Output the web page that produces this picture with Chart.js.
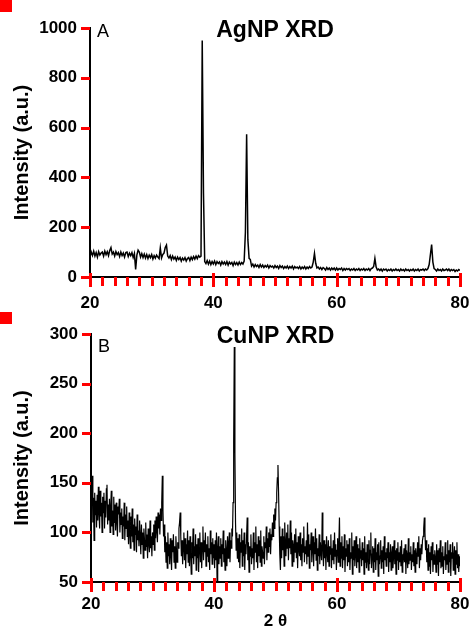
<!DOCTYPE html>
<html><head><meta charset="utf-8">
<script src="https://cdn.jsdelivr.net/npm/chart.js@4.4.1/dist/chart.umd.min.js"></script>
<style>
html,body{margin:0;padding:0;background:#fff;overflow:hidden;width:472px;height:629px;position:relative}
#c1{position:absolute;left:0;top:0}
#c2{position:absolute;left:0;top:312px}
</style></head><body>
<canvas id="c1" width="472" height="312"></canvas>
<canvas id="c2" width="472" height="320"></canvas>
<script>
const agStart = 20, agStep = 0.2;
const cuStart = 20, cuStep = 0.1;
const xTicksMajor = [20, 40, 60, 80];
const xTicksAll = [20,22,24,26,28,30,32,34,36,38,40,42,44,46,48,50,52,54,56,58,60,62,64,66,68,70,72,74,76,78,80];
const agYTicks = [0, 200, 400, 600, 800, 1000];
const cuYTicks = [50, 100, 150, 200, 250, 300];
const panelTitles = ['AgNP XRD', 'CuNP XRD'];
const panelLetters = ['A', 'B'];
const yAxisTitle = 'Intensity (a.u.)';
const xAxisTitle = '2 θ';

const agIntensity = [
  82,100,86,104,84,98,80,102,88,96,
  100,84,104,90,102,86,106,118,92,100,
  84,102,90,98,82,100,86,96,80,98,
  100,82,96,86,98,78,94,30,88,108,
  100,80,94,78,92,76,90,74,88,78,
  90,72,86,76,88,80,74,117,76,90,
  96,118,128,84,76,86,70,84,72,80,
  66,80,70,78,64,76,68,78,64,74,
  78,66,80,70,82,72,84,74,86,80,
  84,950,340,62,54,66,52,64,50,62,
  52,64,50,62,54,60,48,62,52,60,
  50,62,48,60,52,58,46,60,50,58,
  48,60,50,58,52,64,180,573,150,75,
  70,44,52,40,50,42,48,38,50,40,
  48,38,46,40,48,36,46,40,44,36,
  46,38,44,34,46,38,44,34,42,36,
  44,34,42,36,44,32,42,36,40,34,
  42,32,40,34,42,32,40,34,42,36,
  40,60,95,55,36,40,32,38,30,38,
  34,28,38,30,36,28,36,30,36,28,
  36,28,34,30,36,26,34,28,34,30,
  34,26,32,28,34,26,32,28,34,26,
  32,28,34,26,32,28,34,26,34,36,
  42,75,40,28,32,26,32,24,32,28,
  32,24,30,26,32,24,30,26,32,26,
  30,24,32,26,30,24,32,26,30,24,
  30,26,32,24,30,26,32,24,30,28,
  32,26,32,28,34,50,90,130,60,34,
  30,24,32,26,30,24,32,26,28,32,
  26,32,24,30,26,30,22,28,24,30,
  26
];

const cuIntensity = [
  150,128,157,110,135,92,140,118,132,105,
  138,112,146,120,104,142,116,130,100,136,
  120,140,104,132,115,144,148,108,128,112,
  134,100,125,142,106,122,98,136,110,128,
  102,130,112,96,126,118,134,100,120,108,
  124,94,116,106,130,92,118,104,126,96,
  112,88,120,100,84,116,96,124,90,108,
  82,114,98,106,80,118,92,102,86,112,
  96,78,108,88,100,74,104,92,82,110,
  86,98,74,104,90,80,112,84,96,76,
  100,88,108,82,112,94,116,102,90,120,
  104,118,98,124,112,130,157,122,96,108,
  80,96,70,90,64,100,76,88,68,94,
  78,62,92,80,98,70,86,64,96,82,
  70,90,84,104,110,120,96,76,92,68,
  86,100,72,94,64,88,78,102,70,92,
  66,96,80,58,90,74,104,68,86,76,
  98,62,88,74,94,60,84,100,70,90,
  64,86,106,72,92,80,100,66,88,76,
  96,70,84,62,102,78,90,68,94,74,
  88,64,92,72,100,50,82,96,68,86,
  74,94,66,88,78,102,70,84,62,92,
  80,66,96,74,88,100,70,92,84,104,
  96,130,190,287,180,110,82,100,74,94,
  70,98,64,90,80,104,66,92,76,100,
  62,88,78,96,115,72,90,60,86,76,
  98,68,84,74,100,62,90,80,106,70,
  88,64,96,76,92,70,102,66,86,80,
  74,96,68,90,84,106,72,94,80,100,
  86,104,78,98,92,110,96,118,104,124,
  112,130,140,155,168,140,106,78,62,96,
  74,104,82,96,66,110,88,76,100,84,
  108,72,94,84,112,78,100,66,92,86,
  70,98,80,104,74,90,64,96,84,76,
  100,72,88,66,94,80,106,70,86,78,
  92,68,110,76,98,64,88,82,100,70,
  86,96,66,90,78,104,72,94,62,84,
  76,98,68,90,80,72,120,84,66,92,
  74,88,62,96,80,70,92,66,86,78,
  98,64,84,72,92,68,100,76,88,62,
  82,94,70,88,115,66,90,74,96,64,
  86,72,98,60,84,76,92,66,88,70,
  94,62,80,74,100,58,86,72,92,66,
  78,96,64,88,70,84,60,94,74,82,
  66,90,72,84,58,96,70,80,64,88,
  74,62,92,68,82,100,64,78,86,60,
  84,70,94,62,80,72,88,56,90,68,
  76,92,64,82,70,86,58,96,72,80,
  66,84,74,90,60,80,70,88,62,78,
  86,64,76,92,68,82,58,84,72,90,
  62,80,70,86,66,92,60,78,74,84,
  70,88,58,82,76,64,94,68,80,72,
  86,62,78,70,90,66,82,60,84,74,
  68,90,76,96,64,84,72,88,78,92,
  96,104,115,100,82,92,70,84,62,88,
  66,80,58,86,72,90,60,78,68,82,
  76,60,88,68,82,56,84,70,92,64,
  80,66,86,58,76,72,90,62,78,68,
  92,60,82,70,88,56,80,74,90,62,
  74,86,58,82,68,90,64,78,60,76,
  66
];

const FAMILY = '"Liberation Sans", Arial, Helvetica, sans-serif';
Chart.defaults.font.family = FAMILY;

function toPoints(arr, start, step) {
  return arr.map((v, i) => ({ x: start + i * step, y: v }));
}

function makeDecor(yTicks, title, titleY, letter, letterY) {
  return {
    id: 'decor',
    afterDraw(chart) {
      const { ctx, chartArea, scales } = chart;
      const x = scales.x, y = scales.y;
      const base = Math.round(chartArea.bottom);
      const left = Math.round(chartArea.left);
      ctx.save();
      ctx.fillStyle = 'red';
      ctx.fillRect(0, 0, 12, 12);
      for (const v of xTicksAll) {
        const px = Math.round(x.getPixelForValue(v));
        if (xTicksMajor.indexOf(v) >= 0) ctx.fillRect(px - 1, base - 4, 3, 14);
        else ctx.fillRect(px - 1, base, 3, 9);
      }
      for (const v of yTicks) {
        const py = Math.round(y.getPixelForValue(v));
        ctx.fillRect(left - 9, py - 1, 9, 3);
      }
      ctx.fillStyle = '#000';
      ctx.textBaseline = 'alphabetic';
      ctx.font = 'bold 23px ' + FAMILY;
      ctx.textAlign = 'center';
      ctx.fillText(title, (chartArea.left + chartArea.right) / 2, titleY);
      ctx.font = '18px ' + FAMILY;
      ctx.textAlign = 'left';
      ctx.fillText(letter, chartArea.left + 7, letterY);
      ctx.restore();
    }
  };
}

function makeChart(id, data, start, step, yTicks, opts) {
  return new Chart(document.getElementById(id), {
    type: 'line',
    data: {
      datasets: [{
        data: toPoints(data, start, step),
        borderColor: '#000',
        borderWidth: opts.lw,
        pointRadius: 0,
        tension: 0,
        fill: false
      }]
    },
    options: {
      responsive: false,
      animation: false,
      layout: { padding: { top: opts.padTop, right: 12, bottom: 0, left: 0 } },
      plugins: { legend: { display: false } },
      scales: {
        x: {
          type: 'linear',
          min: 20, max: 80,
          afterBuildTicks: s => { s.ticks = xTicksAll.map(v => ({ value: v })); },
          afterFit: s => { s.height = opts.xHeight; s.paddingLeft = 0; s.paddingRight = 0; },
          ticks: {
            autoSkip: false,
            maxRotation: 0,
            padding: opts.xPad,
            font: { size: 17, weight: 'bold' },
            color: '#000',
            callback: v => (xTicksMajor.indexOf(v) >= 0 ? String(v) : '')
          },
          grid: { drawOnChartArea: false, drawTicks: true, tickLength: 6, color: '#00f', lineWidth: 2 },
          border: { display: true, color: '#000', width: 2 },
          title: opts.xTitle ? { display: true, text: xAxisTitle, font: { size: 17, weight: 'bold' }, color: '#000', padding: { top: 0, bottom: 0 } } : { display: false }
        },
        y: {
          min: yTicks[0], max: yTicks[yTicks.length - 1],
          afterBuildTicks: s => { s.ticks = yTicks.map(v => ({ value: v })); },
          afterFit: s => { s.width = opts.yWidth; },
          ticks: { padding: 7, font: { size: 17, weight: 'bold' }, color: '#000', callback: v => String(v) },
          grid: { drawOnChartArea: false, drawTicks: true, tickLength: 6, color: '#00f', lineWidth: 2 },
          border: { display: true, color: '#000', width: 2 },
          title: { display: true, text: yAxisTitle, font: { size: 20, weight: 'bold' }, color: '#000', padding: { top: 10, bottom: 0 } }
        }
      }
    },
    plugins: [makeDecor(yTicks, opts.title, opts.titleY, opts.letter, opts.letterY)]
  });
}

makeChart('c1', agIntensity, agStart, agStep, agYTicks, {
  lw: 1.5, padTop: 28, xHeight: 312 - 277, xPad: 10, yWidth: 90,
  title: panelTitles[0], titleY: 37, letter: panelLetters[0], letterY: 37, xTitle: false
});
makeChart('c2', cuIntensity, cuStart, cuStep, cuYTicks, {
  lw: 1.2, padTop: 22, xHeight: 50, xPad: 6, yWidth: 91,
  title: panelTitles[1], titleY: 31, letter: panelLetters[1], letterY: 40, xTitle: true
});
</script>
</body></html>
